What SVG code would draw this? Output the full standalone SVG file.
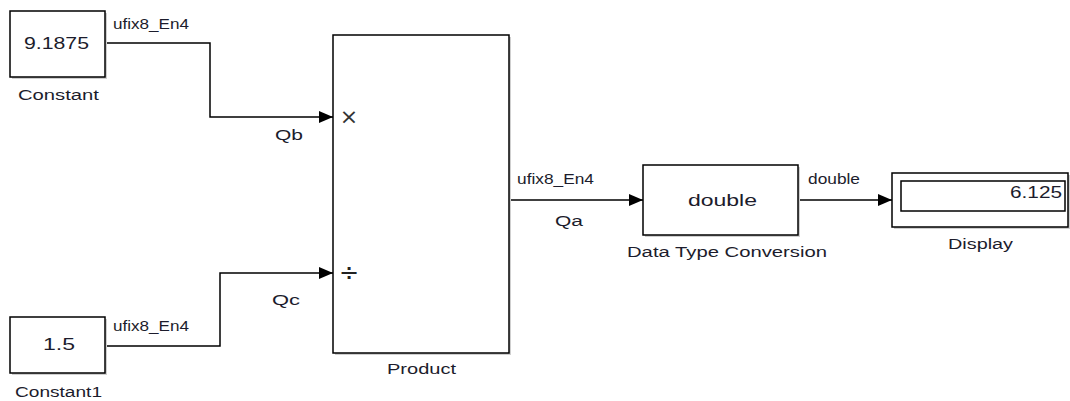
<svg xmlns="http://www.w3.org/2000/svg" width="1070" height="401" viewBox="0 0 1070 401">
<defs>
<style>
.blk{fill:#fff;stroke:#000;stroke-width:1.5}
.shd{fill:#cfcfcf;stroke:none}
.wire{fill:none;stroke:#000;stroke-width:1.5}
.t{font-family:"Liberation Sans",Arial,sans-serif;fill:#1c1c2c}
.lbl{font-size:14px}
.sig{font-size:14px}
.val{font-size:16px}
</style>
<marker id="arr" viewBox="0 0 14 12" refX="14" refY="6" markerWidth="14" markerHeight="12" markerUnits="userSpaceOnUse" orient="auto">
<path d="M0,0 L14,6 L0,12 Z" fill="#000"/>
</marker>
</defs>
<rect width="1070" height="401" fill="#fff"/>

<g id="connectors">
<path class="wire" d="M105,43 H210 V117 H333" marker-end="url(#arr)"/>
<path class="wire" d="M105,346 H220 V273 H333" marker-end="url(#arr)"/>
<path class="wire" d="M510,200 H643" marker-end="url(#arr)"/>
<path class="wire" d="M800,200 H892" marker-end="url(#arr)"/>
<text class="t sig" x="113" y="29" textLength="76" lengthAdjust="spacingAndGlyphs">ufix8_En4</text>
<text class="t lbl" x="275" y="140" textLength="28" lengthAdjust="spacingAndGlyphs">Qb</text>
<text class="t sig" x="113" y="331" textLength="76" lengthAdjust="spacingAndGlyphs">ufix8_En4</text>
<text class="t lbl" x="272" y="305" textLength="28" lengthAdjust="spacingAndGlyphs">Qc</text>
<text class="t sig" x="517" y="184" textLength="77" lengthAdjust="spacingAndGlyphs">ufix8_En4</text>
<text class="t lbl" x="555" y="226" textLength="28" lengthAdjust="spacingAndGlyphs">Qa</text>
<text class="t sig" x="808" y="184" textLength="52" lengthAdjust="spacingAndGlyphs">double</text>
</g>

<g id="constant">
<rect class="shd" x="12" y="13" width="95" height="66"/>
<rect class="blk" x="10" y="11" width="95" height="66"/>
<text class="t val" x="24" y="49" textLength="65" lengthAdjust="spacingAndGlyphs">9.1875</text>
<text class="t lbl" x="18" y="100" textLength="81" lengthAdjust="spacingAndGlyphs">Constant</text>
</g>

<g id="constant1">
<rect class="shd" x="12" y="319" width="95" height="56"/>
<rect class="blk" x="10" y="317" width="95" height="56"/>
<text class="t val" x="43" y="350" textLength="32" lengthAdjust="spacingAndGlyphs">1.5</text>
<text class="t lbl" x="15" y="397" textLength="87" lengthAdjust="spacingAndGlyphs">Constant1</text>
</g>

<g id="product">
<rect class="shd" x="335" y="37" width="176" height="318"/>
<rect class="blk" x="333" y="35" width="176" height="318"/>
<text x="349" y="124" font-family="'DejaVu Sans',sans-serif" font-size="22" fill="#333" text-anchor="middle">×</text>
<text x="349" y="281" font-family="'DejaVu Sans',sans-serif" font-size="24" fill="#222" text-anchor="middle">÷</text>
<text class="t lbl" x="387" y="374" textLength="69" lengthAdjust="spacingAndGlyphs">Product</text>
</g>

<g id="data-type-conversion">
<rect class="shd" x="645" y="167" width="155" height="70"/>
<rect class="blk" x="643" y="165" width="155" height="70"/>
<text class="t val" x="688" y="206" textLength="69" lengthAdjust="spacingAndGlyphs">double</text>
<text class="t lbl" x="627" y="257" textLength="200" lengthAdjust="spacingAndGlyphs">Data Type Conversion</text>
</g>

<g id="display">
<rect class="shd" x="894" y="175" width="176" height="54"/>
<rect class="blk" x="892" y="173" width="176" height="54"/>
<rect x="901" y="181" width="164" height="30" fill="#fff" stroke="#000" stroke-width="1.5"/>
<text class="t val" x="1062" y="198" text-anchor="end" textLength="52" lengthAdjust="spacingAndGlyphs">6.125</text>
<text class="t lbl" x="948" y="249" textLength="65" lengthAdjust="spacingAndGlyphs">Display</text>
</g>
</svg>
